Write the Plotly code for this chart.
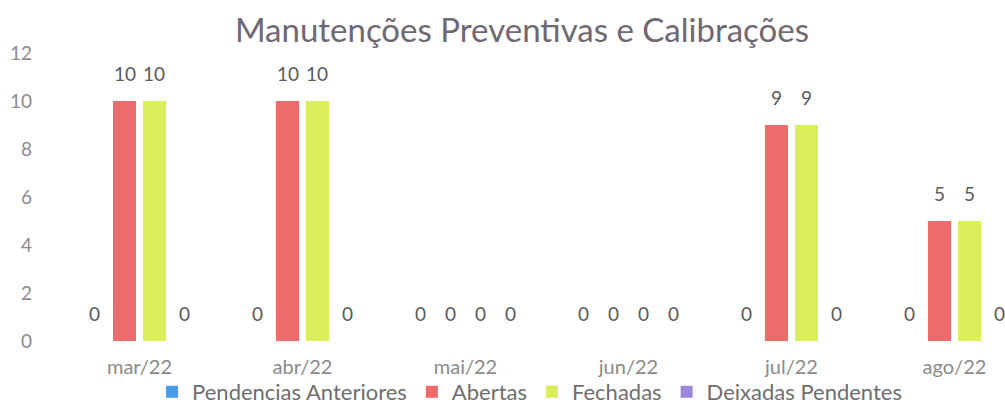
import plotly.graph_objects as go

categories = ["mar/22", "abr/22", "mai/22", "jun/22", "jul/22", "ago/22"]
pendencias_anteriores = [0, 0, 0, 0, 0, 0]
abertas = [10, 10, 0, 0, 9, 5]
fechadas = [10, 10, 0, 0, 9, 5]
deixadas_pendentes = [0, 0, 0, 0, 0, 0]

series = [
    ("Pendencias Anteriores", pendencias_anteriores, "#4a9be6"),
    ("Abertas", abertas, "#ee6b6b"),
    ("Fechadas", fechadas, "#dcee5c"),
    ("Deixadas Pendentes", deixadas_pendentes, "#9c86de"),
]

FONT = "Lato, 'Open Sans', sans-serif"
BARGAP = 0.264
n = len(series)
slot = (1 - BARGAP) / n

fig = go.Figure()
for k, (name, vals, color) in enumerate(series):
    fig.add_trace(go.Bar(
        name=name, x=list(range(len(categories))), y=vals,
        marker=dict(color=color, line=dict(width=0)),
    ))
    off = (k - (n - 1) / 2) * slot
    for i, v in enumerate(vals):
        fig.add_annotation(x=i + off, y=v, text=str(v), showarrow=False,
                           yshift=28, yanchor="middle", xanchor="center",
                           font=dict(family=FONT, size=19, color="#5a5a5a"))

fig.update_layout(
    width=1005, height=405,
    paper_bgcolor="white", plot_bgcolor="white",
    margin=dict(l=58, r=0, t=53, b=64, autoexpand=False),
    barmode="group", bargap=BARGAP, bargroupgap=0.23,
    title=dict(text="Manutenções Preventivas e Calibrações", x=0.5194, xanchor="center",
               y=0.926, yanchor="middle",
               font=dict(family=FONT, size=33, color="#6e6873")),
    xaxis=dict(tickmode="array", tickvals=list(range(len(categories))), ticktext=categories,
               range=[-0.5, 5.31], showgrid=False, zeroline=False, showline=False,
               ticks="", ticklabelstandoff=12, automargin=False,
               tickfont=dict(family=FONT, size=20, color="#8a8a8a")),
    yaxis=dict(range=[0, 12], dtick=2, showgrid=False, zeroline=False, showline=False,
               ticks="", ticklabelstandoff=25, automargin=False,
               tickfont=dict(family=FONT, size=19, color="#8c8a90")),
    legend=dict(orientation="h", x=0.498, xanchor="center", y=-0.177, yanchor="middle",
                bgcolor="rgba(0,0,0,0)",
                font=dict(family=FONT, size=22, color="#6e6e6e"),
                itemwidth=30, traceorder="normal"),
    showlegend=True,
)

fig.write_html("out.html", config={"displayModeBar": False},
               post_script="document.body.style.margin='0';document.body.style.padding='0';")
